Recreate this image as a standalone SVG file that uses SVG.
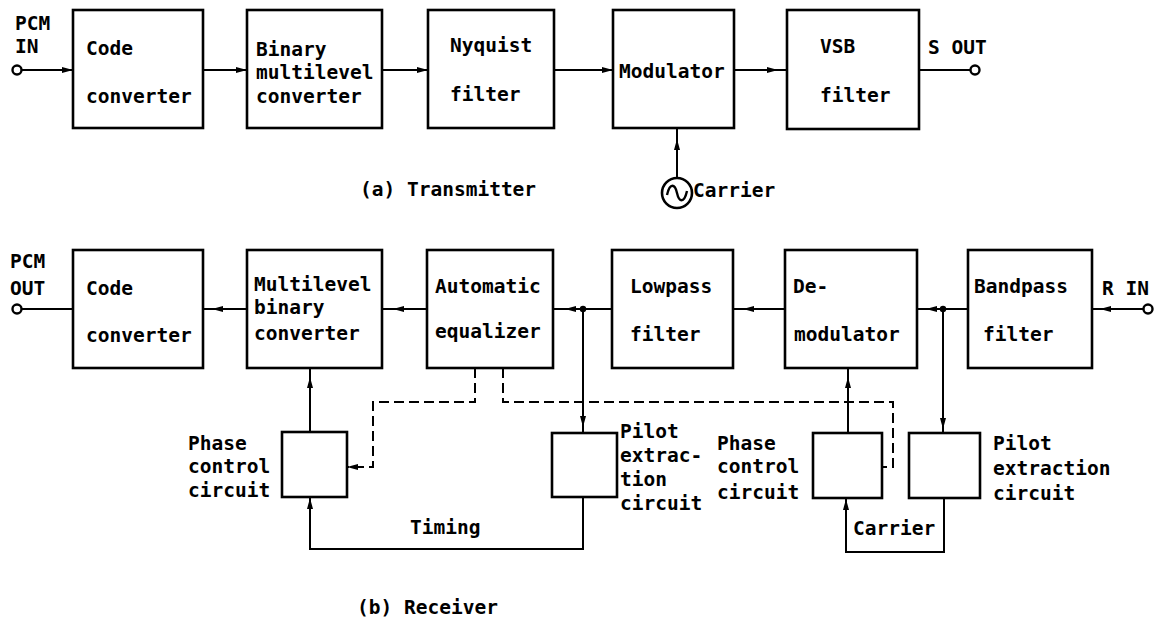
<svg xmlns="http://www.w3.org/2000/svg" width="1163" height="627" viewBox="0 0 1163 627">
  <style>
    .box { fill: #fff; stroke: #000; stroke-width: 2.6; }
    .ln { fill: none; stroke: #000; stroke-width: 2; }
    .dash { fill: none; stroke: #000; stroke-width: 2; stroke-dasharray: 10 5; }
    .term { fill: #fff; stroke: #000; stroke-width: 2.4; }
    .dot { fill: #000; }
    text { font-family: "DejaVu Sans Mono", "Liberation Mono", monospace; font-weight: bold; font-size: 19.5px; fill: #000; }
  </style>
  <defs>
    <marker id="arr" viewBox="0 0 11 6" refX="11" refY="3" markerWidth="11" markerHeight="6" markerUnits="userSpaceOnUse" orient="auto">
      <path d="M0,0 L11,3 L0,6 Z" fill="#000"/>
    </marker>
  </defs>

  <!-- Transmitter chain -->
  <g id="tx-code-converter">
    <rect class="box" x="73" y="10" width="130" height="118"/>
    <text x="86" y="55">Code</text>
    <text x="86" y="103">converter</text>
  </g>
  <g id="tx-binary-multilevel">
    <rect class="box" x="247" y="10" width="135" height="118"/>
    <text x="256" y="56">Binary</text>
    <text x="256" y="79">multilevel</text>
    <text x="256" y="103">converter</text>
  </g>
  <g id="tx-nyquist">
    <rect class="box" x="428" y="10" width="126" height="118"/>
    <text x="450" y="52">Nyquist</text>
    <text x="450" y="101">filter</text>
  </g>
  <g id="tx-modulator">
    <rect class="box" x="613" y="10" width="121" height="118"/>
    <text x="619" y="78">Modulator</text>
  </g>
  <g id="tx-vsb">
    <rect class="box" x="787" y="10" width="132" height="119"/>
    <text x="820" y="53">VSB</text>
    <text x="820" y="102">filter</text>
  </g>
  <g id="tx-carrier">
    <circle cx="677" cy="193" r="15" fill="#fff" stroke="#000" stroke-width="2.6"/>
    <path d="M667,195 C670,182 675,184 677,193 C679,202 684,204 687,191" fill="none" stroke="#000" stroke-width="2.4"/>
    <text x="693" y="197">Carrier</text>
  </g>
  <g id="tx-in">
    <text x="15" y="30">PCM</text>
    <text x="15" y="53">IN</text>
    <circle class="term" cx="17" cy="70" r="4.5"/>
  </g>
  <g id="tx-out">
    <text x="928" y="54">S OUT</text>
    <circle class="term" cx="975" cy="70" r="4.5"/>
  </g>
  <text x="360" y="196">(a) Transmitter</text>

  <!-- Receiver chain -->
  <g id="rx-code-converter">
    <rect class="box" x="73" y="250" width="130" height="118"/>
    <text x="86" y="295">Code</text>
    <text x="86" y="342">converter</text>
  </g>
  <g id="rx-multilevel-binary">
    <rect class="box" x="247" y="250" width="135" height="118"/>
    <text x="254" y="291">Multilevel</text>
    <text x="254" y="314">binary</text>
    <text x="254" y="340">converter</text>
  </g>
  <g id="rx-equalizer">
    <rect class="box" x="427" y="250" width="126" height="118"/>
    <text x="435" y="293">Automatic</text>
    <text x="435" y="338">equalizer</text>
  </g>
  <g id="rx-lowpass">
    <rect class="box" x="612" y="250" width="121" height="118"/>
    <text x="630" y="293">Lowpass</text>
    <text x="630" y="341">filter</text>
  </g>
  <g id="rx-demodulator">
    <rect class="box" x="785" y="250" width="132" height="118"/>
    <text x="793" y="293">De-</text>
    <text x="794" y="341">modulator</text>
  </g>
  <g id="rx-bandpass">
    <rect class="box" x="968" y="250" width="124" height="118"/>
    <text x="974" y="293">Bandpass</text>
    <text x="983" y="341">filter</text>
  </g>
  <g id="rx-out">
    <text x="10" y="268">PCM</text>
    <text x="10" y="295">OUT</text>
    <circle class="term" cx="17" cy="309" r="4.5"/>
  </g>
  <g id="rx-in">
    <text x="1102" y="295">R IN</text>
    <circle class="term" cx="1148" cy="309" r="4.5"/>
  </g>

  <g id="rx-phase-control-timing">
    <rect class="box" x="282" y="432" width="65" height="65"/>
    <text x="188" y="450">Phase</text>
    <text x="188" y="473">control</text>
    <text x="188" y="497">circuit</text>
  </g>
  <g id="rx-pilot-extraction-timing">
    <rect class="box" x="552" y="433" width="65" height="64"/>
    <text x="620" y="438">Pilot</text>
    <text x="620" y="462">extrac-</text>
    <text x="620" y="486">tion</text>
    <text x="620" y="510">circuit</text>
  </g>
  <g id="rx-phase-control-carrier">
    <rect class="box" x="813" y="433" width="69" height="65"/>
    <text x="717" y="450">Phase</text>
    <text x="717" y="473">control</text>
    <text x="717" y="499">circuit</text>
  </g>
  <g id="rx-pilot-extraction-carrier">
    <rect class="box" x="909" y="433" width="71" height="65"/>
    <text x="993" y="450">Pilot</text>
    <text x="993" y="475">extraction</text>
    <text x="993" y="500">circuit</text>
  </g>
  <text x="410" y="534">Timing</text>
  <text x="853" y="535">Carrier</text>
  <text x="357" y="614">(b) Receiver</text>

  <!-- Connectors -->
  <g id="connectors">
    <!-- transmitter signal path -->
    <path class="ln" d="M21.5,70 H73" marker-end="url(#arr)"/>
    <path class="ln" d="M203,70 H247" marker-end="url(#arr)"/>
    <path class="ln" d="M382,70 H428" marker-end="url(#arr)"/>
    <path class="ln" d="M554,70 H613" marker-end="url(#arr)"/>
    <path class="ln" d="M734,70 H778 H787" marker-mid="url(#arr)"/>
    <path class="ln" d="M919,70 H970.5"/>
    <path class="ln" d="M677,178 V139 V128" marker-mid="url(#arr)"/>

    <!-- receiver signal path -->
    <path class="ln" d="M1143.5,309 H1100 H1092" marker-mid="url(#arr)"/>
    <path class="ln" d="M968,309 H926 H917" marker-mid="url(#arr)"/>
    <path class="ln" d="M785,309 H743 H733" marker-mid="url(#arr)"/>
    <path class="ln" d="M612,309 H565 H553" marker-mid="url(#arr)"/>
    <path class="ln" d="M427,309 H393 H382" marker-mid="url(#arr)"/>
    <path class="ln" d="M247,309 H212 H203" marker-mid="url(#arr)"/>
    <path class="ln" d="M73,309 H21.5"/>
    <circle class="dot" cx="583" cy="309" r="3.2"/>
    <circle class="dot" cx="943" cy="309" r="3.2"/>

    <!-- pilot taps -->
    <path class="ln" d="M583,309 V427 V433" marker-mid="url(#arr)"/>
    <path class="ln" d="M943,309 V429 V433" marker-mid="url(#arr)"/>

    <!-- control returns to converters -->
    <path class="ln" d="M310,432 V377 V368" marker-mid="url(#arr)"/>
    <path class="ln" d="M848,433 V377 V368" marker-mid="url(#arr)"/>

    <!-- timing and carrier loops -->
    <path class="ln" d="M583,497 V549 H310 V498" marker-end="url(#arr)"/>
    <path class="ln" d="M944,498 V552 H846 V499" marker-end="url(#arr)"/>

    <!-- equalizer control (dashed) -->
    <path class="dash" d="M475,368 V402 H373 V467 H347" marker-end="url(#arr)"/>
    <path class="dash" d="M503,368 V402 H893 V467 H882"/>
  </g>
</svg>
